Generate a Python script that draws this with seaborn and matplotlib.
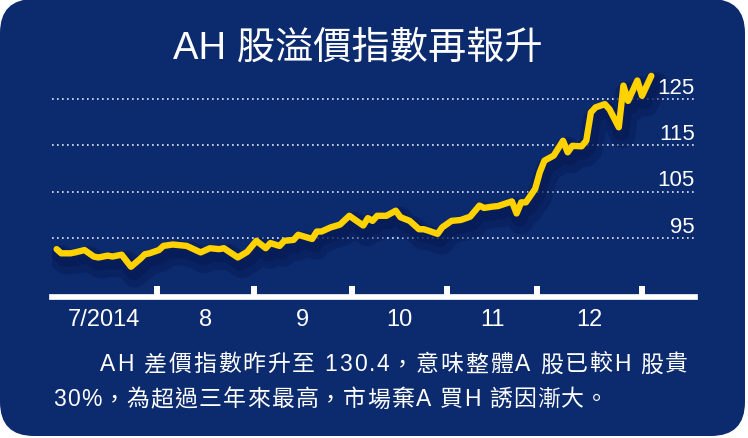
import matplotlib
matplotlib.use("Agg")
import matplotlib.pyplot as plt
import matplotlib.patheffects as pe
from matplotlib.patches import FancyBboxPatch
import seaborn as sns
import pandas as pd

# AH premium index (x = trading day since 1 Jul 2014)
days = [0, 1, 3, 4, 6, 8, 9, 11, 12, 14, 15, 16, 18, 19, 20, 22, 23, 25, 28, 31,
        33, 35, 36, 39, 41, 43, 45, 46, 48, 49, 51, 52, 55, 56, 57, 59, 61, 63, 66, 67,
        68, 69, 71, 73, 74, 76, 78, 79, 80, 82, 83, 85, 87, 89, 91, 92, 94, 95, 98, 99,
        100, 101, 103, 104, 105, 107, 109, 110, 111, 113, 114, 115, 116, 118, 119, 121,
        122, 123, 125, 126, 128]
index_values = [92.6, 91.7, 91.7, 91.9, 92.4, 91.0, 90.8, 91.2, 91.0, 91.4, 90.1, 88.8,
                90.5, 91.5, 91.7, 92.4, 93.3, 93.6, 93.3, 91.9, 92.8, 92.6, 92.8, 90.8,
                92.0, 94.4, 92.8, 93.9, 93.3, 94.4, 94.6, 95.7, 94.8, 96.4, 96.4, 97.3,
                97.9, 99.8, 97.7, 99.3, 98.7, 99.8, 99.8, 100.9, 99.5, 98.7, 96.9, 96.9,
                96.6, 95.9, 97.3, 98.7, 98.9, 99.6, 102.0, 101.5, 101.8, 101.9, 102.9,
                100.3, 102.7, 102.7, 105.6, 109.2, 111.7, 112.8, 116.0, 113.5, 114.9,
                114.8, 116.0, 122.1, 123.2, 123.9, 122.8, 118.9, 127.9, 124.6, 129.0,
                125.7, 130.0]

# month boundaries (trading-day positions) and labels
month_edges = [-1, 21.5, 42.5, 63.5, 84, 103.5, 126]
month_labels = ["7/2014", "8", "9", "10", "11", "12"]
grid_levels = [95, 105, 115, 125]

title = "AH 股溢價指數再報升"
caption_1 = "AH 差價指數昨升至 130.4，意味整體A 股已較H 股貴"
caption_2 = "30%，為超過三年來最高，市場棄A 買H 誘因漸大。"

bg_blue = "#0c2a6e"
shadow_blue = "#061a55"
yellow = "#ffd200"

fonts = ["Liberation Sans", "Noto Sans CJK TC", "DejaVu Sans"]
plt.rcParams["font.family"] = fonts

fig = plt.figure(figsize=(7.48, 4.39), dpi=100, facecolor="white")

# rounded dark blue panel
panel = FancyBboxPatch((0, 0.02), 7.45, 4.37,
                       boxstyle="round,pad=0,rounding_size=0.34",
                       transform=fig.dpi_scale_trans,
                       facecolor=bg_blue, edgecolor="none", zorder=-10)
fig.patches.append(panel)

ax = fig.add_axes([0.0695, 0.3212, 0.8596, 0.5193])
ax.set_facecolor("none")

df = pd.DataFrame({"day": days, "value": index_values})
sns.lineplot(data=df, x="day", y="value", ax=ax, color=yellow, linewidth=4.6,
             solid_joinstyle="round", solid_capstyle="round", zorder=5)
line = ax.lines[-1]
line.set_path_effects([
    pe.SimpleLineShadow(offset=(3, -6), shadow_color=shadow_blue, alpha=0.45,
                        rho=1.0, linewidth=18),
    pe.SimpleLineShadow(offset=(2, -4), shadow_color=shadow_blue, alpha=0.6,
                        rho=1.0, linewidth=11),
    pe.Normal(),
])

ax.set_xlim(-1, 137.4)
ax.set_ylim(82.27, 131.48)

# dotted gridlines with labels on the right
for level in grid_levels:
    ax.axhline(level, color="white", linewidth=1.2, linestyle=(0, (1, 2)),
               alpha=0.9, zorder=1)
    ax.annotate(str(level), xy=(1.0, level), xycoords=("axes fraction", "data"),
                xytext=(0, 1.0), textcoords="offset points",
                ha="right", va="bottom", color="white", fontsize=16, zorder=10)

# x axis: thick white baseline with month-boundary ticks
for side in ["top", "left", "right"]:
    ax.spines[side].set_visible(False)
ax.spines["bottom"].set_color("white")
ax.spines["bottom"].set_linewidth(4.1)
ax.set_yticks([])
ax.set_xticks(month_edges[1:])
ax.set_xticklabels([])
ax.tick_params(axis="x", which="major", direction="in", length=7.9, width=4.3,
               color="white")
mids = [(a + b) / 2 for a, b in zip(month_edges[:-1], month_edges[1:])]
ax.set_xticks(mids, minor=True)
ax.set_xticklabels(month_labels, minor=True)
ax.tick_params(axis="x", which="minor", length=0, pad=8, labelsize=17,
               labelcolor="white")
ax.set_xlabel("")
ax.set_ylabel("")

fig.text(0.479, 0.89, title, ha="center", va="center", color="white", fontsize=27.5)


def tracked_text(x_px, y_frac, text, extra_px, size):
    # write a line char by char, spreading extra_px evenly as letter spacing
    renderer = fig.canvas.get_renderer()
    gap = extra_px / max(len(text) - 1, 1)
    x = x_px
    for ch in text:
        t = fig.text(x / 748, y_frac, ch, ha="left", va="center", color="white",
                     fontsize=size)
        w = t.get_window_extent(renderer).width
        if ch == " ":
            w = size * 0.278 * 100 / 72
        x += w + gap


tracked_text(100, 0.169, caption_1, 53, 16.5)
tracked_text(53, 0.089, caption_2, 30, 16.5)

fig.savefig("out.png", dpi=100, facecolor="white")
